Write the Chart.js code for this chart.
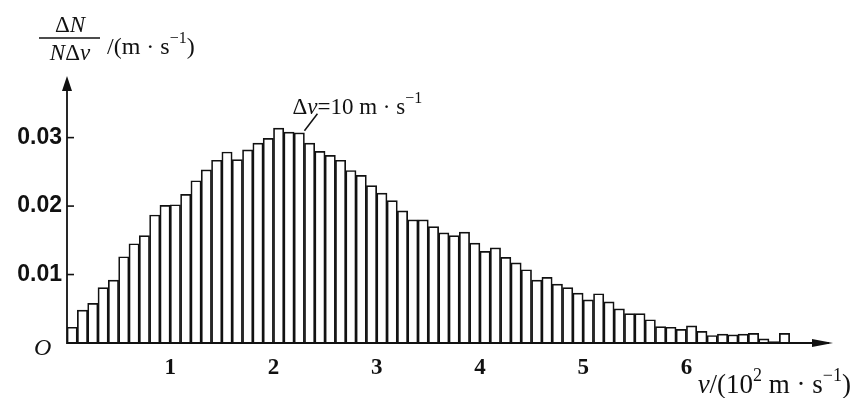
<!DOCTYPE html>
<html>
<head>
<meta charset="utf-8">
<script src="https://cdn.jsdelivr.net/npm/chart.js@4.4.1/dist/chart.umd.min.js"></script>
<style>
  html, body { margin: 0; background: #fff; }
</style>
</head>
<body>
<canvas id="speedChart" width="856" height="398"></canvas>
<script>
// speed bins, lower edge in 10^2 m/s (bin width Δv = 10 m/s)
const binStarts = Array.from({ length: 70 }, (_, i) => i / 10);
const binWidth = 0.1;

// ΔN / (N Δv) for each bin
const fractions = [
  0.0023, 0.0048, 0.0058, 0.0081, 0.0092, 0.0126, 0.0145, 0.0157, 0.0187, 0.0201,
  0.0202, 0.0217, 0.0237, 0.0253, 0.0267, 0.0279, 0.0268, 0.0282, 0.0292, 0.0299,
  0.0314, 0.0308, 0.0307, 0.0292, 0.0280, 0.0274, 0.0267, 0.0252, 0.0245, 0.0230,
  0.0219, 0.0208, 0.0193, 0.0180, 0.0180, 0.0170, 0.0161, 0.0157, 0.0162, 0.0146,
  0.0134, 0.0139, 0.0125, 0.0117, 0.0107, 0.0092, 0.0096, 0.0086, 0.0081, 0.0073,
  0.0063, 0.0072, 0.0060, 0.0050, 0.0043, 0.0043, 0.0034, 0.0024, 0.0023, 0.0020,
  0.0025, 0.0017, 0.0011, 0.0013, 0.0012, 0.0013, 0.0014, 0.0006, 0.0002, 0.0014
];

const xTicks = [1, 2, 3, 4, 5, 6];
const yTicks = [0.01, 0.02, 0.03];
const noteBin = 22; // bar the Δv note points at

const INK = "#111";
const SERIF = '"Liberation Serif", "DejaVu Serif", serif';
const reg = (s) => `${s}px ${SERIF}`;
const ital = (s) => `italic ${s}px ${SERIF}`;

// draw a row of text pieces with their own fonts / raise
function drawRuns(ctx, runs, x, y, align) {
  let total = 0;
  runs.forEach((r) => {
    ctx.font = r.font;
    r.w = ctx.measureText(r.t).width;
    total += r.w;
  });
  let cx = align === "right" ? x - total : align === "center" ? x - total / 2 : x;
  runs.forEach((r) => {
    ctx.font = r.font;
    ctx.fillText(r.t, cx, y + (r.dy || 0));
    cx += r.w;
  });
}

const axisDecor = {
  id: "axisDecor",
  beforeDatasetsDraw(chart) {
    const { ctx, chartArea } = chart;
    const ys = chart.scales.y;
    ctx.save();
    ctx.strokeStyle = INK;
    ctx.lineWidth = 1.8;
    // the two axes
    ctx.beginPath();
    ctx.moveTo(chartArea.left, chartArea.top + 4);
    ctx.lineTo(chartArea.left, chartArea.bottom);
    ctx.lineTo(chartArea.right - 4, chartArea.bottom);
    ctx.stroke();
    // small inward ticks on the y axis
    ctx.lineWidth = 1.6;
    yTicks.forEach((v) => {
      const py = ys.getPixelForValue(v);
      ctx.beginPath();
      ctx.moveTo(chartArea.left, py);
      ctx.lineTo(chartArea.left + 7, py);
      ctx.stroke();
    });
    ctx.restore();
  },
  afterDraw(chart) {
    const { ctx, chartArea } = chart;
    const xs = chart.scales.x;
    const ys = chart.scales.y;
    const ox = chartArea.left;
    const oy = chartArea.bottom;
    ctx.save();
    ctx.fillStyle = INK;
    ctx.strokeStyle = INK;

    // base line again over the bar bottoms, then arrow heads
    ctx.lineWidth = 1.8;
    ctx.beginPath();
    ctx.moveTo(ox, oy);
    ctx.lineTo(chartArea.right - 4, oy);
    ctx.stroke();
    ctx.beginPath();
    ctx.moveTo(ox, chartArea.top);
    ctx.lineTo(ox - 5, chartArea.top + 15);
    ctx.lineTo(ox + 5, chartArea.top + 15);
    ctx.closePath();
    ctx.fill();
    ctx.beginPath();
    ctx.moveTo(chartArea.right, oy);
    ctx.lineTo(chartArea.right - 21, oy - 4);
    ctx.lineTo(chartArea.right - 21, oy + 4);
    ctx.closePath();
    ctx.fill();

    ctx.textAlign = "left";
    ctx.textBaseline = "alphabetic";

    // origin
    ctx.font = ital(24);
    ctx.fillText("O", 34, 355);

    // y title as a fraction
    drawRuns(ctx, [{ t: "Δ", font: reg(23) }, { t: "N", font: ital(23) }], 70, 32, "center");
    ctx.lineWidth = 1.6;
    ctx.beginPath();
    ctx.moveTo(39, 38);
    ctx.lineTo(100, 38);
    ctx.stroke();
    drawRuns(ctx, [
      { t: "N", font: ital(23) },
      { t: "Δ", font: reg(23) },
      { t: "v", font: ital(23) }
    ], 70, 60, "center");
    drawRuns(ctx, [
      { t: "/(m · s", font: reg(24) },
      { t: "−1", font: reg(16), dy: -11 },
      { t: ")", font: reg(24) }
    ], 107, 54, "left");

    // x title
    drawRuns(ctx, [
      { t: "v", font: ital(27) },
      { t: "/(10", font: reg(27) },
      { t: "2", font: reg(18), dy: -12 },
      { t: " m · s", font: reg(27) },
      { t: "−1", font: reg(18), dy: -12 },
      { t: ")", font: reg(27) }
    ], 851, 393, "right");

    // Δv note with leader to a bar corner
    const ex = xs.getPixelForValue(binStarts[noteBin] + binWidth);
    const ey = ys.getPixelForValue(fractions[noteBin]);
    ctx.lineWidth = 1.5;
    ctx.beginPath();
    ctx.moveTo(ex, ey - 2);
    ctx.lineTo(ex + 13, ey - 19);
    ctx.stroke();
    drawRuns(ctx, [
      { t: "Δ", font: reg(23) },
      { t: "v", font: ital(23) },
      { t: "=10 m · s", font: reg(23) },
      { t: "−1", font: reg(16), dy: -11 }
    ], ex - 12, ey - 19, "left");

    ctx.restore();
  }
};

new Chart(document.getElementById("speedChart"), {
  type: "bar",
  data: {
    datasets: [{
      data: binStarts.map((v, i) => ({ x: v + binWidth / 2, y: fractions[i] })),
      backgroundColor: "#fff",
      borderColor: INK,
      borderWidth: 1.7,
      borderSkipped: "bottom",
      barPercentage: 1,
      categoryPercentage: 1
    }]
  },
  options: {
    responsive: false,
    animation: false,
    devicePixelRatio: 1,
    layout: { padding: { top: 76, right: 23, left: 0, bottom: 0 } },
    plugins: { legend: { display: false }, tooltip: { enabled: false } },
    scales: {
      x: {
        type: "linear",
        offset: false,
        min: 0,
        max: 7.42,
        grid: { display: false, drawTicks: false },
        border: { display: false },
        ticks: { color: INK, font: { family: SERIF, size: 23, weight: "bold" }, padding: 11 },
        afterBuildTicks: (s) => { s.ticks = xTicks.map((v) => ({ value: v })); },
        afterFit: (s) => { s.height = 55; }
      },
      y: {
        min: 0,
        max: 0.039,
        grid: { display: false, drawTicks: false },
        border: { display: false },
        ticks: {
          color: INK,
          font: { family: '"Liberation Sans", Arial, sans-serif', size: 23, weight: "bold" },
          padding: 5,
          callback: (v) => v.toFixed(2)
        },
        afterBuildTicks: (s) => { s.ticks = yTicks.map((v) => ({ value: v })); },
        afterFit: (s) => { s.width = 67; }
      }
    }
  },
  plugins: [axisDecor]
});
</script>
</body>
</html>
